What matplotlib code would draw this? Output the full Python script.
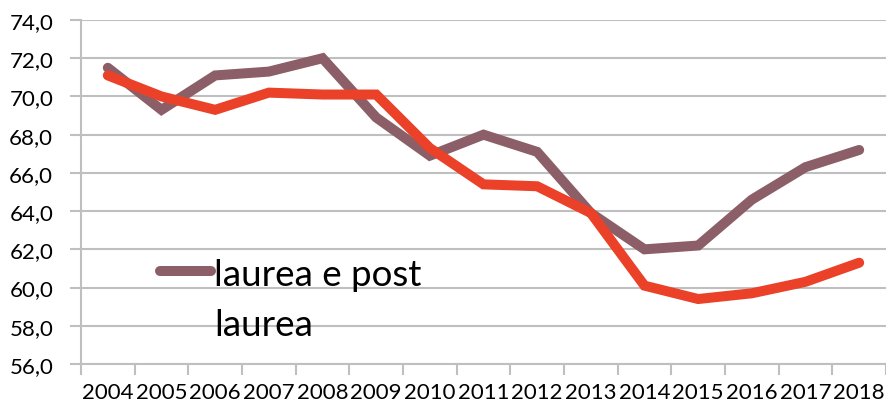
import matplotlib
matplotlib.use("Agg")
import matplotlib.pyplot as plt
from matplotlib.lines import Line2D
from matplotlib.ticker import FuncFormatter, FixedLocator

plt.rcParams["font.family"] = ["Lato", "DejaVu Sans"]

YEARS = [str(y) for y in range(2004, 2019)]
LAUREA_POST = [71.5, 69.3, 71.1, 71.3, 72.0, 68.9, 66.9, 68.0, 67.1, 63.9,
               62.0, 62.2, 64.6, 66.3, 67.2]
RED_SERIES = [71.1, 70.0, 69.3, 70.2, 70.1, 70.1, 67.3, 65.4, 65.3, 63.9,
              60.1, 59.4, 59.7, 60.3, 61.3]
LEGEND_LABEL = "laurea e post\nlaurea"

MAUVE = "#8C5F68"
RED = "#EA4128"
GRID = "#BFBFBF"

fig = plt.figure(figsize=(8.86, 4.10), dpi=100)
ax = fig.add_axes([81 / 886, 1 - 365 / 410, 1 - 81 / 886, (365 - 21) / 410])

x = list(range(len(YEARS)))
ax.plot(x, LAUREA_POST, color=MAUVE, lw=7.2, solid_joinstyle="miter",
        solid_capstyle="round", zorder=3)
ax.plot(x, RED_SERIES, color=RED, lw=7.2, solid_joinstyle="miter",
        solid_capstyle="round", zorder=4)

ax.set_xlim(-0.5, len(YEARS) - 0.5)
ax.set_ylim(56, 74)
ax.set_yticks(range(56, 75, 2))
ax.yaxis.set_major_formatter(FuncFormatter(lambda v, _: f"{v:.1f}".replace(".", ",")))
ax.grid(axis="y", color=GRID, lw=1.5, zorder=0)

ax.set_xticks(x)
ax.set_xticklabels(YEARS)
ax.xaxis.set_minor_locator(FixedLocator([i - 0.5 for i in range(len(YEARS) + 1)]))
ax.tick_params(axis="x", which="major", length=0, pad=13, labelsize=16)
ax.tick_params(axis="x", which="minor", length=8, width=1.5, color=GRID)
ax.tick_params(axis="y", length=8, width=1.5, color=GRID, pad=12, labelsize=16)

for s in ("top", "right"):
    ax.spines[s].set_visible(False)
for s in ("left", "bottom"):
    ax.spines[s].set_color(GRID)
    ax.spines[s].set_linewidth(1.5)

# legend entry drawn by hand (only the first series is listed, text wraps)
fig.add_artist(Line2D([160 / 886, 211 / 886], [1 - 272 / 410] * 2,
                      color=MAUVE, lw=7.2, solid_capstyle="round"))
fig.text(214 / 886, 1 - 259 / 410, LEGEND_LABEL, fontsize=26.5, va="top",
         ha="left", linespacing=1.62, color="black")

fig.savefig("out.png", dpi=100)
